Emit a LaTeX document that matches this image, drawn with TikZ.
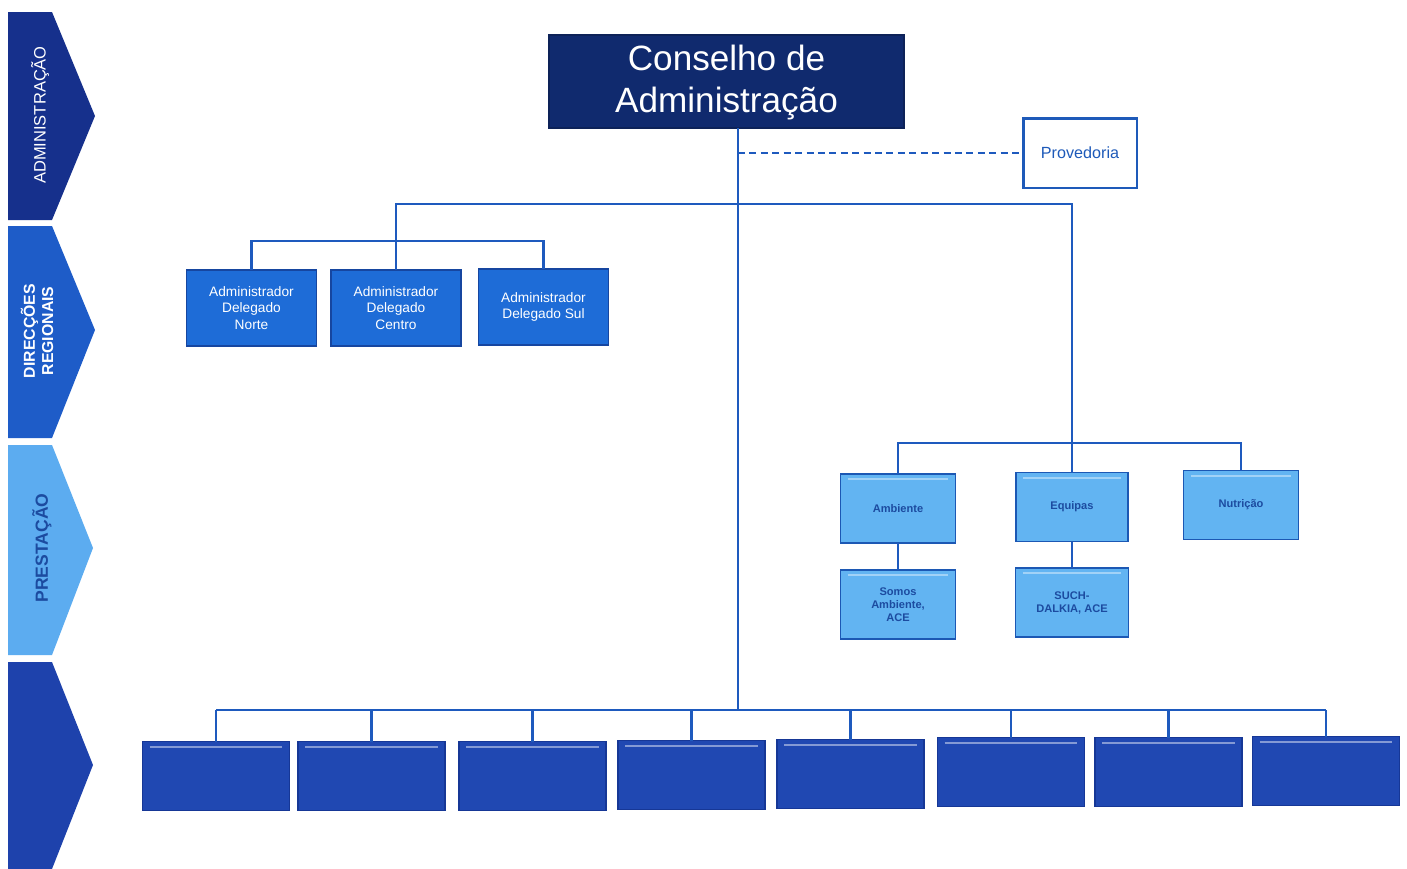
\documentclass[tikz,border=0pt]{standalone}
\usepackage{fontspec}
\setmainfont{Liberation Sans}
\definecolor{navy}{RGB}{16,42,110}
\definecolor{chevA}{RGB}{22,48,140}
\definecolor{chevB}{RGB}{30,92,200}
\definecolor{chevC}{RGB}{92,172,240}
\definecolor{chevD}{RGB}{30,66,172}
\definecolor{linec}{RGB}{30,90,190}
\definecolor{regfill}{RGB}{30,108,215}
\definecolor{regdraw}{RGB}{22,70,160}
\definecolor{prfill}{RGB}{98,180,242}
\definecolor{prdraw}{RGB}{28,88,180}
\definecolor{prtext}{RGB}{28,75,160}
\definecolor{botfill}{RGB}{32,72,178}
\definecolor{botdraw}{RGB}{22,55,150}
\definecolor{provc}{RGB}{30,90,185}
\tikzset{
  conn/.style={draw=linec, line width=1.6pt},
  box/.style={draw, inner sep=0pt, outer sep=0pt, align=center, line width=1pt},
  topline/.style={path picture={\draw[#1, line width=0.9pt]
      ([xshift=4pt,yshift=-3pt]path picture bounding box.north west) --
      ([xshift=-4pt,yshift=-3pt]path picture bounding box.north east);}},
  regbox/.style={box, fill=regfill, draw=regdraw, minimum width=2.6cm, minimum height=1.52cm,
      text=white, font=\fontsize{7.8}{9.4}\selectfont},
  prbox/.style={box, fill=prfill, draw=prdraw, minimum width=2.3cm, minimum height=1.38cm,
      text=prtext, font=\bfseries\fontsize{6.3}{7.4}\selectfont, topline=prfill!60!white},
  botbox/.style={box, fill=botfill, draw=botdraw, minimum width=2.94cm, minimum height=1.38cm,
      topline=botfill!55!white},
  chevtext/.style={rotate=90, align=center, inner sep=0pt},
}
\begin{document}
\begin{tikzpicture}[x=0.02cm, y=-0.02cm]
\useasboundingbox (0,0) rectangle (1407,869);
\fill[white] (0,0) rectangle (1407,869);

% left chevrons
\fill[chevA] (8,12) -- (52,12) -- (95,116) -- (52,220) -- (8,220) -- cycle;
\fill[chevB] (8,226) -- (52,226) -- (95,330) -- (52,438) -- (8,438) -- cycle;
\fill[chevC] (8,445) -- (52,445) -- (93,548) -- (52,655) -- (8,655) -- cycle;
\fill[chevD] (8,662) -- (52,662) -- (93,765) -- (52,869) -- (8,869) -- cycle;
\node[chevtext, text=white, font=\fontsize{9.4}{11}\selectfont] (tadm) at (40,115) {ADMINISTRAÇÃO};
\node[chevtext, text=white, font=\bfseries\fontsize{9}{10.4}\selectfont] (tdir) at (37,331) {DIRECÇÕES\\REGIONAIS};
\node[chevtext, text=prtext, font=\bfseries\fontsize{10}{12}\selectfont] (tpre) at (42,548) {PRESTAÇÃO};

% top
\node[box, fill=navy, draw=navy!80!black, minimum width=7.1cm, minimum height=1.86cm,
      text=white, font=\fontsize{20}{24.4}\selectfont, text depth=0.6ex] (cons) at (726.5,81.5) {Conselho de\\Administração};
\node[box, fill=white, draw=provc, line width=1.7pt, minimum width=2.28cm, minimum height=1.4cm,
      text=provc, font=\fontsize{9.2}{11}\selectfont] (prov) at (1080,153) {Provedoria};

% regional
\node[regbox] (norte) at (251.5,308) {Administrador\\Delegado\\Norte};
\node[regbox] (centro) at (396,308) {Administrador\\Delegado\\Centro};
\node[regbox] (sul) at (543.5,307) {Administrador\\Delegado Sul};

% prestacao
\node[prbox] (amb) at (898,508.5) {Ambiente};
\node[prbox, minimum width=2.24cm] (equ) at (1072,507) {Equipas};
\node[prbox] (nut) at (1241,505) {Nutrição};
\node[prbox] (somos) at (898,604.5) {Somos\\Ambiente,\\ACE};
\node[prbox, minimum width=2.26cm] (dalkia) at (1072,602.5) {SUCH-\\DALKIA, ACE};

% bottom boxes
\node[botbox] (b1) at (216,776) {};
\node[botbox] (b2) at (371.5,776) {};
\node[botbox] (b3) at (532.5,776) {};
\node[botbox] (b4) at (691.5,775) {};
\node[botbox] (b5) at (850.5,774) {};
\node[botbox] (b6) at (1011,772) {};
\node[botbox] (b7) at (1168.5,772) {};
\node[botbox] (b8) at (1326,771) {};

% coordinates
\coordinate (bus) at (738,710);
\coordinate (ub) at (738,204);
\coordinate (reg) at (0,241);
\coordinate (pb) at (0,443);

% connectors
\draw[conn] (cons.south -| bus) -- (bus);
\draw[conn, dashed, dash pattern=on 4pt off 2.5pt, line width=1.1pt] (prov.west -| bus) -- (prov.west);
\draw[conn] (centro.north) -- (centro.north |- ub) -- (equ.north |- ub) -- (equ.north);
\draw[conn] (norte.north) -- (norte.north |- reg) -- (sul.north |- reg) -- (sul.north);
\draw[conn] (amb.north) -- (amb.north |- pb) -- (nut.north |- pb) -- (nut.north);
\draw[conn] (amb.south) -- (somos.north);
\draw[conn] (equ.south) -- (dalkia.north);
\draw[conn] (b1.north |- bus) -- (b8.north |- bus);
\foreach \b in {b1,b2,b3,b4,b5,b6,b7,b8}
  \draw[conn] (\b.north) -- (\b.north |- bus);
\end{tikzpicture}
\end{document}
